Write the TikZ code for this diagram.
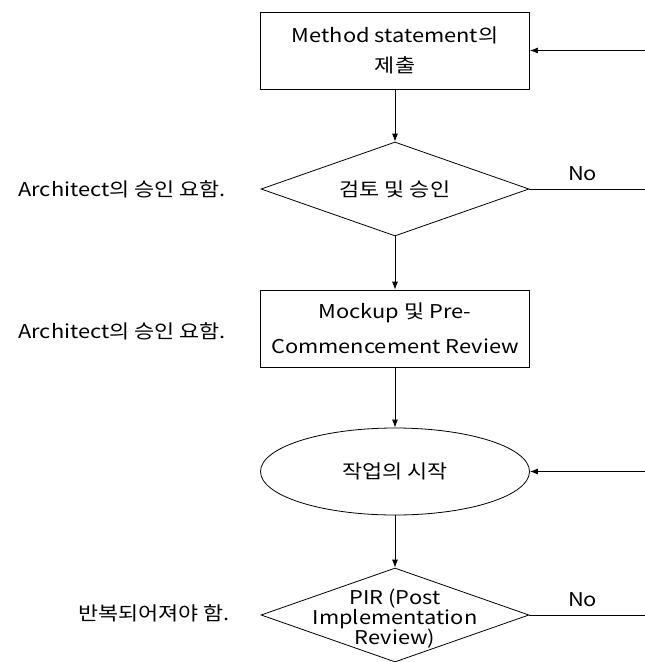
\documentclass[tikz,border=0pt]{standalone}
\usepackage{fontspec}
\setmainfont[FakeStretch=1.15]{Noto Sans CJK KR}
\usetikzlibrary{positioning,arrows.meta,shapes.geometric}
\tikzset{
  base/.style={draw,line width=0.8pt,align=center,inner sep=2pt},
  proc/.style={base,rectangle,minimum width=269pt,minimum height=77pt,font=\fontsize{19}{30}\selectfont},
  decision/.style={base,diamond,shape aspect=2.8,minimum width=268pt,minimum height=94pt,font=\fontsize{19}{20}\selectfont},
  startnode/.style={base,ellipse,minimum width=269pt,minimum height=87pt,font=\fontsize{19}{20}\selectfont},
  arr/.style={-{Latex[length=8pt,width=6pt]},line width=0.8pt},
  link/.style={line width=0.8pt},
  note/.style={font=\fontsize{19}{20}\selectfont,anchor=east,inner sep=0pt},
  lbl/.style={font=\fontsize{19}{20}\selectfont,inner sep=0pt}}
\begin{document}
\begin{tikzpicture}[x=1pt,y=-1pt]
\useasboundingbox (0,0) rectangle (645,662);
% main column
\node[proc] (submit) at (395,50.5) {Method statement의\\제출};
\node[decision] (review) at (395,189) {검토 및 승인};
\node[proc,font=\fontsize{19}{35}\selectfont] (mockup) at (395,328.5) {Mockup 및 Pre-\\Commencement Review};
\node[startnode] (start) at (395,471.5) {작업의 시작};
\node[decision,label={[lbl,align=center,yshift=-4pt]center:PIR (Post\\Implementation\\Review)}] (pir) at (395,615) {};
% side notes
\node[note] (note1) at (226,189) {Architect의 승인 요함.};
\node[note] (note2) at (226,331) {Architect의 승인 요함.};
\node[note] (note3) at (230,613) {반복되어져야 함.};
% loose ends on the right
\coordinate (backtop) at (645,50.5);
\coordinate (nofirst) at (645,189);
\coordinate (backmid) at (645,471.5);
\coordinate (nosecond) at (645,615);
\draw[arr] (submit) -- (review);
\draw[arr] (review) -- (mockup);
\draw[arr] (mockup) -- (start);
\draw[arr] (start) -- (pir);
\draw[arr] (backtop) -- (submit.east);
\draw[arr] (backmid) -- (start.east);
\draw[link] (review.east) -- (nofirst) node[lbl,pos=0.46,above=8pt] (no1) {No};
\draw[link] (pir.east) -- (nosecond) node[lbl,pos=0.46,above=8pt] (no2) {No};
\end{tikzpicture}
\end{document}
